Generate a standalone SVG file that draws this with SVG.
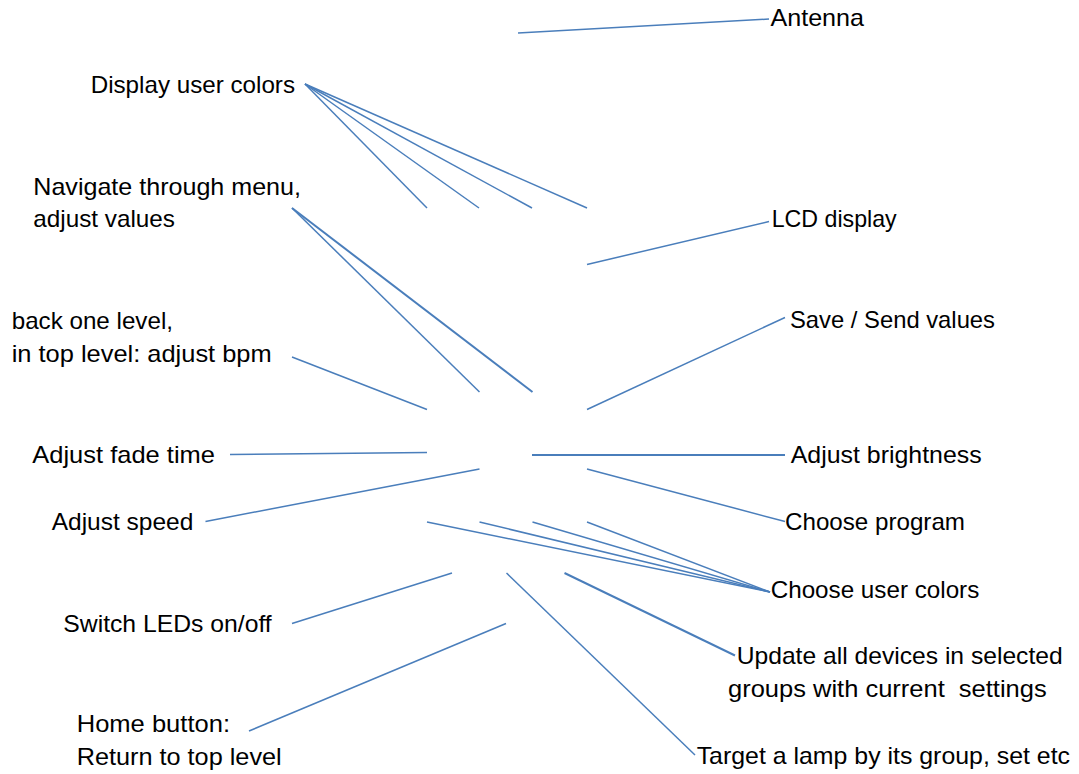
<svg xmlns="http://www.w3.org/2000/svg" width="1079" height="774" viewBox="0 0 1079 774">
<style>
  text { font-family: "Liberation Sans", Arial, sans-serif; font-size: 24px; fill: #000; }
  .c line { stroke: #4A7EBB; stroke-width: 1.5; stroke-linecap: butt; fill: none; }
  .c line.t { stroke-width: 2; }
</style>
<rect width="1079" height="774" fill="#fff"/>
<g id="connectors" class="c">
  <line x1="518" y1="33" x2="769" y2="19"/>
  <line x1="305" y1="84" x2="427" y2="208"/>
  <line x1="305" y1="84" x2="479" y2="208"/>
  <line x1="305" y1="84" x2="532" y2="208"/>
  <line x1="305" y1="84" x2="587" y2="208"/>
  <line x1="587" y1="264.5" x2="769" y2="221.5"/>
  <line x1="292" y1="208" x2="479.5" y2="392"/>
  <line class="t" x1="292" y1="208" x2="532.5" y2="392"/>
  <line x1="292" y1="357" x2="427" y2="409.5"/>
  <line x1="587" y1="409.5" x2="785" y2="317.5"/>
  <line x1="230" y1="454.5" x2="427" y2="452.5"/>
  <line class="t" x1="532" y1="455" x2="785" y2="455"/>
  <line x1="205.5" y1="521.5" x2="479.5" y2="469"/>
  <line x1="587" y1="469" x2="785" y2="521.5"/>
  <line x1="427" y1="522" x2="770" y2="592"/>
  <line x1="479.5" y1="522" x2="770" y2="592"/>
  <line x1="532.5" y1="522" x2="770" y2="592"/>
  <line x1="587" y1="522" x2="770" y2="592"/>
  <line x1="292" y1="623.5" x2="452" y2="573"/>
  <line x1="249" y1="731" x2="506" y2="623.5"/>
  <line x1="506.5" y1="573" x2="695" y2="755"/>
  <line class="t" x1="564.5" y1="573" x2="735" y2="655.5"/>
</g>
<g id="antenna"><text x="770.5" y="26" textLength="93.5" lengthAdjust="spacingAndGlyphs">Antenna</text></g>
<g id="display-user-colors"><text x="90.7" y="93" textLength="204.3" lengthAdjust="spacingAndGlyphs">Display user colors</text></g>
<g id="lcd-display"><text x="771.7" y="227" textLength="125" lengthAdjust="spacingAndGlyphs">LCD display</text></g>
<g id="navigate">
  <text x="33.3" y="195" textLength="267.7" lengthAdjust="spacingAndGlyphs">Navigate through menu,</text>
  <text x="33.3" y="227" textLength="141.7" lengthAdjust="spacingAndGlyphs">adjust values</text>
</g>
<g id="back-one-level">
  <text x="11.7" y="328.5" textLength="161.3" lengthAdjust="spacingAndGlyphs">back one level,</text>
  <text x="11.7" y="361.7" textLength="260" lengthAdjust="spacingAndGlyphs">in top level: adjust bpm</text>
</g>
<g id="save-send"><text x="790" y="327.7" textLength="205" lengthAdjust="spacingAndGlyphs">Save / Send values</text></g>
<g id="adjust-fade-time"><text x="32.3" y="462.7" textLength="182.7" lengthAdjust="spacingAndGlyphs">Adjust fade time</text></g>
<g id="adjust-brightness"><text x="790.7" y="462.7" textLength="191" lengthAdjust="spacingAndGlyphs">Adjust brightness</text></g>
<g id="adjust-speed"><text x="51.7" y="530" textLength="141.6" lengthAdjust="spacingAndGlyphs">Adjust speed</text></g>
<g id="choose-program"><text x="785" y="530" textLength="180" lengthAdjust="spacingAndGlyphs">Choose program</text></g>
<g id="choose-user-colors"><text x="770.7" y="597.7" textLength="208.6" lengthAdjust="spacingAndGlyphs">Choose user colors</text></g>
<g id="switch-leds"><text x="63.3" y="632" textLength="208.4" lengthAdjust="spacingAndGlyphs">Switch LEDs on/off</text></g>
<g id="update-all">
  <text x="736.7" y="664" textLength="326" lengthAdjust="spacingAndGlyphs">Update all devices in selected</text>
  <text x="728" y="697" textLength="318.7" lengthAdjust="spacingAndGlyphs" xml:space="preserve">groups with current  settings</text>
</g>
<g id="home-button">
  <text x="76.7" y="731.7" textLength="153.3" lengthAdjust="spacingAndGlyphs">Home button:</text>
  <text x="76.7" y="765" textLength="205" lengthAdjust="spacingAndGlyphs">Return to top level</text>
</g>
<g id="target-lamp"><text x="696.7" y="764" textLength="373.3" lengthAdjust="spacingAndGlyphs">Target a lamp by its group, set etc</text></g>
</svg>
